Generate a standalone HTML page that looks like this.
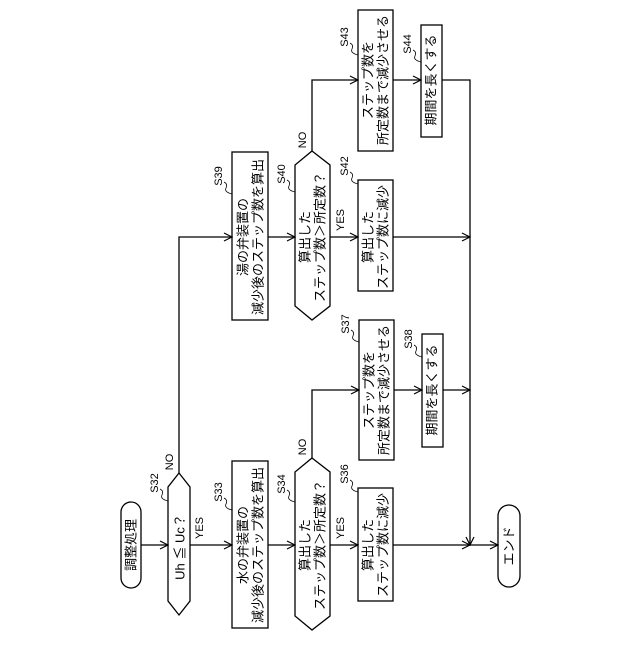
<!DOCTYPE html>
<html><head><meta charset="utf-8"><style>
html,body{margin:0;padding:0;background:#fff;}
svg text{font-family:"Liberation Sans","Noto Sans CJK JP",sans-serif;font-size:13px;fill:#000;}
.s{font-size:11px;}
</style></head><body>
<svg width="640" height="640" viewBox="0 0 640 640" xmlns="http://www.w3.org/2000/svg">
<defs><marker id="a" markerWidth="10" markerHeight="10" refX="9" refY="5" orient="auto" markerUnits="userSpaceOnUse"><path d="M1,1 L9,5 L1,9" fill="none" stroke="#000" stroke-width="1.2"/></marker></defs>
<g fill="none" stroke="#000" stroke-width="1.3">
<!-- shapes -->
<rect x="121" y="502" width="20" height="86" rx="10"/>
<polygon points="179,473 190,487 190,601 179,615 168,601 168,487"/>
<rect x="232" y="461" width="36" height="167"/>
<polygon points="312,458 330,472 330,616 312,630 295,616 295,472"/>
<rect x="358" y="488" width="35" height="113"/>
<rect x="359" y="320" width="35" height="140"/>
<rect x="422" y="334" width="21" height="113"/>
<rect x="232" y="152" width="36" height="168"/>
<polygon points="312,151 330,165 330,306 312,320 295,306 295,165"/>
<rect x="358" y="180" width="35" height="111"/>
<rect x="358" y="10" width="35" height="141"/>
<rect x="421" y="25" width="21" height="112"/>
<rect x="498" y="505" width="22" height="82" rx="11"/>
<!-- connectors -->
<path d="M141,545 H168" marker-end="url(#a)"/>
<path d="M190,545 H232" marker-end="url(#a)"/>
<path d="M268,545 H295" marker-end="url(#a)"/>
<path d="M330,545 H358" marker-end="url(#a)"/>
<path d="M393,545 H470" marker-end="url(#a)"/>
<path d="M470,545 H498" marker-end="url(#a)"/>
<path d="M179,473 V237 H232" marker-end="url(#a)"/>
<path d="M268,237 H295" marker-end="url(#a)"/>
<path d="M330,237 H358" marker-end="url(#a)"/>
<path d="M393,237 H470" marker-end="url(#a)"/>
<path d="M312,458 V390 H359" marker-end="url(#a)"/>
<path d="M394,390 H422" marker-end="url(#a)"/>
<path d="M443,390 H470" marker-end="url(#a)"/>
<path d="M312,151 V80 H358" marker-end="url(#a)"/>
<path d="M393,80 H421" marker-end="url(#a)"/>
<path d="M442,80 H470 V545" marker-end="url(#a)"/>
<!-- squiggles -->
<path d="M160,489 q4,2 2,6 q-2,4 6,6" stroke-width="0.8"/>
<path d="M224,498 q4,2 2,6 q-2,4 6,6" stroke-width="0.8"/>
<path d="M287,490 q4,2 2,6 q-2,4 6,6" stroke-width="0.8"/>
<path d="M350,480 q4,2 2,6 q-2,4 6,6" stroke-width="0.8"/>
<path d="M351,330 q4,2 2,6 q-2,4 6,6" stroke-width="0.8"/>
<path d="M414,345 q4,2 2,6 q-2,4 6,6" stroke-width="0.8"/>
<path d="M224,182 q4,2 2,6 q-2,4 6,6" stroke-width="0.8"/>
<path d="M287,180 q4,2 2,6 q-2,4 6,6" stroke-width="0.8"/>
<path d="M350,172 q4,2 2,6 q-2,4 6,6" stroke-width="0.8"/>
<path d="M350,43 q4,2 2,6 q-2,4 6,6" stroke-width="0.8"/>
<path d="M413,50 q4,2 2,6 q-2,4 6,6" stroke-width="0.8"/>
</g>
<g text-anchor="middle" dominant-baseline="central">
<text transform="translate(131,545) rotate(-90)">調整処理</text>
<text transform="translate(180,547) rotate(-90)">Uh ≦ Uc？</text>
<text transform="translate(243,545) rotate(-90)">水の弁装置の</text>
<text transform="translate(258,545) rotate(-90)">減少後のステップ数を算出</text>
<text transform="translate(305,545) rotate(-90)">算出した</text>
<text transform="translate(320,545) rotate(-90)">ステップ数＞所定数？</text>
<text transform="translate(368,545) rotate(-90)">算出した</text>
<text transform="translate(383,545) rotate(-90)">ステップ数に減少</text>
<text transform="translate(369,390) rotate(-90)">ステップ数を</text>
<text transform="translate(384,390) rotate(-90)">所定数まで減少させる</text>
<text transform="translate(432,390) rotate(-90)">期間を長くする</text>
<text transform="translate(243,237) rotate(-90)">湯の弁装置の</text>
<text transform="translate(258,237) rotate(-90)">減少後のステップ数を算出</text>
<text transform="translate(305,237) rotate(-90)">算出した</text>
<text transform="translate(320,237) rotate(-90)">ステップ数＞所定数？</text>
<text transform="translate(368,237) rotate(-90)">算出した</text>
<text transform="translate(383,237) rotate(-90)">ステップ数に減少</text>
<text transform="translate(368,80) rotate(-90)">ステップ数を</text>
<text transform="translate(383,80) rotate(-90)">所定数まで減少させる</text>
<text transform="translate(431,80) rotate(-90)">期間を長くする</text>
<text transform="translate(509,546) rotate(-90)">エンド</text>
<text class="s" transform="translate(155,483) rotate(-90)">S32</text>
<text class="s" transform="translate(219,492) rotate(-90)">S33</text>
<text class="s" transform="translate(282,484) rotate(-90)">S34</text>
<text class="s" transform="translate(345,474) rotate(-90)">S36</text>
<text class="s" transform="translate(346,324) rotate(-90)">S37</text>
<text class="s" transform="translate(409,339) rotate(-90)">S38</text>
<text class="s" transform="translate(219,176) rotate(-90)">S39</text>
<text class="s" transform="translate(282,174) rotate(-90)">S40</text>
<text class="s" transform="translate(345,166) rotate(-90)">S42</text>
<text class="s" transform="translate(345,37) rotate(-90)">S43</text>
<text class="s" transform="translate(408,44) rotate(-90)">S44</text>
<text class="s" transform="translate(200,528) rotate(-90)">YES</text>
<text class="s" transform="translate(170,462) rotate(-90)">NO</text>
<text class="s" transform="translate(341,528) rotate(-90)">YES</text>
<text class="s" transform="translate(303,447) rotate(-90)">NO</text>
<text class="s" transform="translate(341,220) rotate(-90)">YES</text>
<text class="s" transform="translate(303,140) rotate(-90)">NO</text>
</g>
</svg>
</body></html>
